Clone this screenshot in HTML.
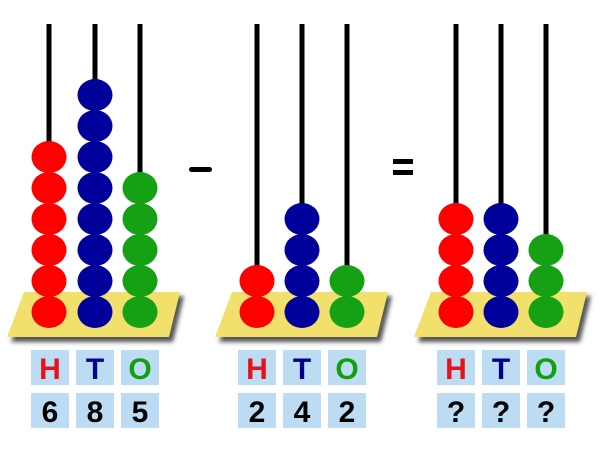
<!DOCTYPE html>
<html><head><style>
body{margin:0;background:#fff;}
svg{display:block}
text{font-family:"Liberation Sans",sans-serif;font-size:30px;font-weight:bold;text-anchor:middle}
</style></head><body>
<svg width="600" height="450" viewBox="0 0 600 450" xmlns="http://www.w3.org/2000/svg">
<defs>
<filter id="sh" x="-10%" y="-10%" width="130%" height="150%"><feGaussianBlur stdDeviation="2"/></filter>
</defs>
<g id="bases">
<polygon points="28,296 184,296 173,342 11,342" fill="#555" filter="url(#sh)"/>
<polygon points="24,292 180,292 169,337 7,337" fill="#f1e16c"/>
<polygon points="236,296 392,296 381,342 219,342" fill="#555" filter="url(#sh)"/>
<polygon points="232,292 388,292 377,337 215,337" fill="#f1e16c"/>
<polygon points="435,296 591,296 580,342 418,342" fill="#555" filter="url(#sh)"/>
<polygon points="431,292 587,292 576,337 414,337" fill="#f1e16c"/>
</g>
<g stroke="#000" stroke-width="5">
<line x1="49" y1="24" x2="49" y2="300"/><line x1="95" y1="24" x2="95" y2="300"/><line x1="140" y1="24" x2="140" y2="300"/>
<line x1="257" y1="24" x2="257" y2="300"/><line x1="302" y1="24" x2="302" y2="300"/><line x1="347" y1="24" x2="347" y2="300"/>
<line x1="456" y1="24" x2="456" y2="300"/><line x1="501" y1="24" x2="501" y2="300"/><line x1="546" y1="24" x2="546" y2="300"/>
</g>
<g id="beads">
<g fill="#ff0000">
<ellipse cx="49" cy="312" rx="17.5" ry="16"/><ellipse cx="49" cy="281" rx="17.5" ry="16"/><ellipse cx="49" cy="250" rx="17.5" ry="16"/><ellipse cx="49" cy="219" rx="17.5" ry="16"/><ellipse cx="49" cy="188" rx="17.5" ry="16"/><ellipse cx="49" cy="157" rx="17.5" ry="16"/>
<ellipse cx="257" cy="312" rx="17.5" ry="16"/><ellipse cx="257" cy="281" rx="17.5" ry="16"/>
<ellipse cx="456" cy="312" rx="17.5" ry="16"/><ellipse cx="456" cy="281" rx="17.5" ry="16"/><ellipse cx="456" cy="250" rx="17.5" ry="16"/><ellipse cx="456" cy="219" rx="17.5" ry="16"/>
</g>
<g fill="#00009a">
<ellipse cx="95" cy="312" rx="17.5" ry="16"/><ellipse cx="95" cy="281" rx="17.5" ry="16"/><ellipse cx="95" cy="250" rx="17.5" ry="16"/><ellipse cx="95" cy="219" rx="17.5" ry="16"/><ellipse cx="95" cy="188" rx="17.5" ry="16"/><ellipse cx="95" cy="157" rx="17.5" ry="16"/><ellipse cx="95" cy="126" rx="17.5" ry="16"/><ellipse cx="95" cy="95" rx="17.5" ry="16"/>
<ellipse cx="302" cy="312" rx="17.5" ry="16"/><ellipse cx="302" cy="281" rx="17.5" ry="16"/><ellipse cx="302" cy="250" rx="17.5" ry="16"/><ellipse cx="302" cy="219" rx="17.5" ry="16"/>
<ellipse cx="501" cy="312" rx="17.5" ry="16"/><ellipse cx="501" cy="281" rx="17.5" ry="16"/><ellipse cx="501" cy="250" rx="17.5" ry="16"/><ellipse cx="501" cy="219" rx="17.5" ry="16"/>
</g>
<g fill="#16a014">
<ellipse cx="140" cy="312" rx="17.5" ry="16"/><ellipse cx="140" cy="281" rx="17.5" ry="16"/><ellipse cx="140" cy="250" rx="17.5" ry="16"/><ellipse cx="140" cy="219" rx="17.5" ry="16"/><ellipse cx="140" cy="188" rx="17.5" ry="16"/>
<ellipse cx="347" cy="312" rx="17.5" ry="16"/><ellipse cx="347" cy="281" rx="17.5" ry="16"/>
<ellipse cx="546" cy="312" rx="17.5" ry="16"/><ellipse cx="546" cy="281" rx="17.5" ry="16"/><ellipse cx="546" cy="250" rx="17.5" ry="16"/>
</g>
</g>
<rect x="189" y="167" width="23" height="5" rx="2.5" fill="#000"/>
<rect x="393" y="159" width="20" height="5" fill="#000"/>
<rect x="393" y="170" width="20" height="5" fill="#000"/>
<g fill="#bcdcf4">
<rect x="31" y="350" width="38" height="35"/><rect x="76" y="350" width="38" height="35"/><rect x="121" y="350" width="38" height="35"/>
<rect x="31" y="393" width="38" height="35"/><rect x="76" y="393" width="38" height="35"/><rect x="121" y="393" width="38" height="35"/>
<rect x="238" y="350" width="38" height="35"/><rect x="283" y="350" width="38" height="35"/><rect x="328" y="350" width="38" height="35"/>
<rect x="238" y="393" width="38" height="35"/><rect x="283" y="393" width="38" height="35"/><rect x="328" y="393" width="38" height="35"/>
<rect x="437" y="350" width="38" height="35"/><rect x="482" y="350" width="38" height="35"/><rect x="527" y="350" width="38" height="35"/>
<rect x="437" y="393" width="38" height="35"/><rect x="482" y="393" width="38" height="35"/><rect x="527" y="393" width="38" height="35"/>
</g>
<g>
<text x="50" y="379" fill="#e8101a">H</text><text x="95" y="379" fill="#00008a">T</text><text x="140" y="379" fill="#10a010">O</text>
<text x="257" y="379" fill="#e8101a">H</text><text x="302" y="379" fill="#00008a">T</text><text x="347" y="379" fill="#10a010">O</text>
<text x="456" y="379" fill="#e8101a">H</text><text x="501" y="379" fill="#00008a">T</text><text x="546" y="379" fill="#10a010">O</text>
<text x="50" y="422">6</text><text x="95" y="422">8</text><text x="140" y="422">5</text>
<text x="257" y="422">2</text><text x="302" y="422">4</text><text x="347" y="422">2</text>
<text x="456" y="422">?</text><text x="501" y="422">?</text><text x="546" y="422">?</text>
</g>
</svg>
</body></html>
